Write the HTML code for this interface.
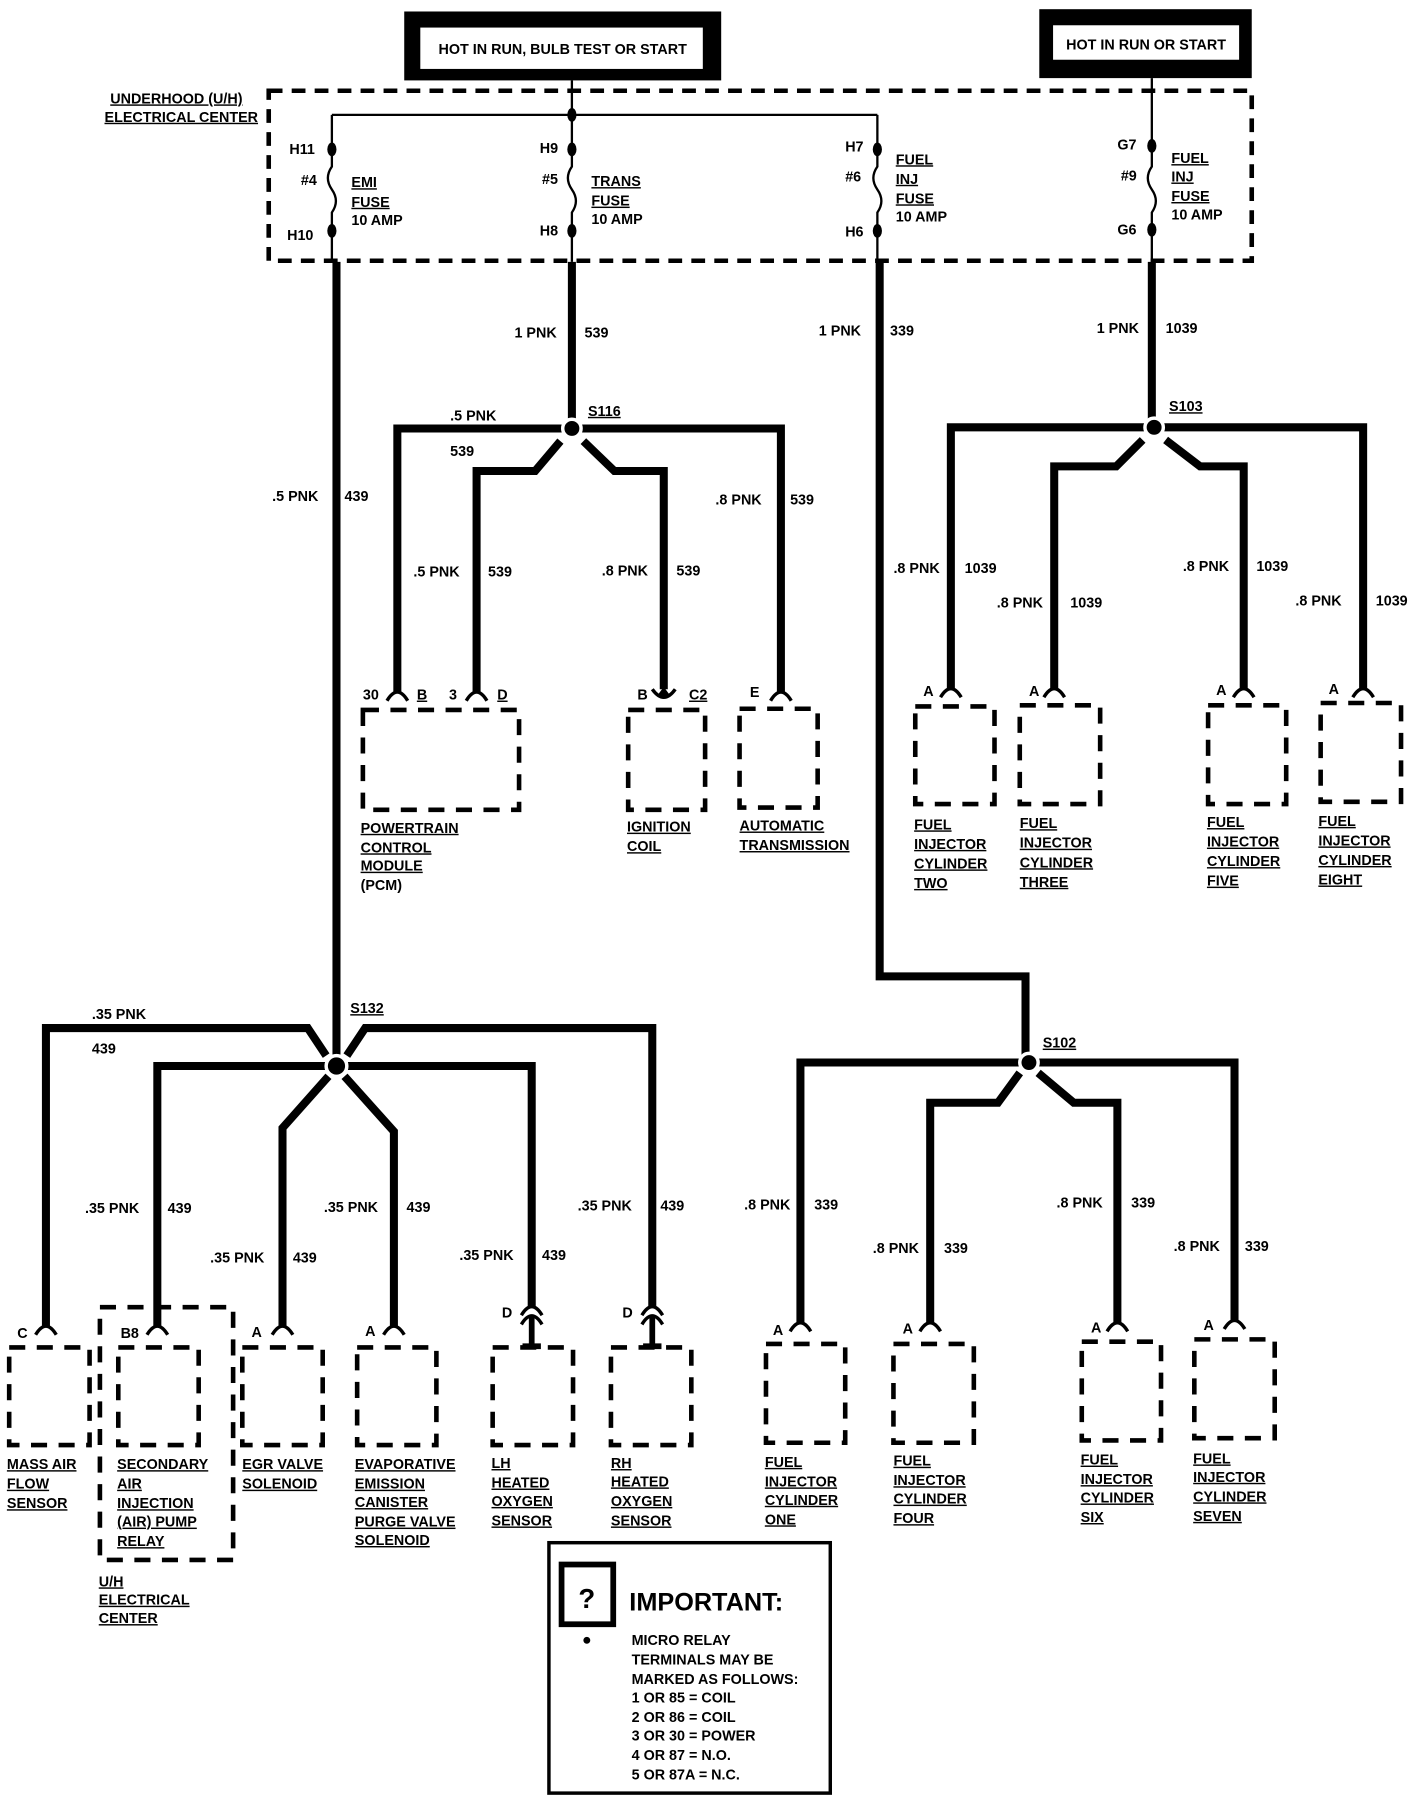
<!DOCTYPE html>
<html><head><meta charset="utf-8"><style>
html,body{margin:0;padding:0;background:#fff}
svg{display:block}
text{font-family:"Liberation Sans Narrow","Liberation Sans",sans-serif;font-weight:bold;font-size:12.5px;fill:#000}
.u{text-decoration:underline}
</style></head><body>
<svg width="1424" height="1800" viewBox="0 0 1240 1567" preserveAspectRatio="none" xmlns="http://www.w3.org/2000/svg">
<defs>
<g id="cap"><path d="M-9,7 Q0,-8 9,7" fill="none" stroke="#000" stroke-width="3"/></g>
</defs>
<!-- top boxes -->
<rect x="352" y="10" width="276" height="60" fill="#000"/>
<rect x="366" y="24" width="246" height="36" fill="#fff"/>
<text x="490" y="47" text-anchor="middle">HOT IN RUN, BULB TEST OR START</text>
<rect x="905" y="8" width="185" height="60" fill="#000"/>
<rect x="917" y="22" width="162" height="30" fill="#fff"/>
<text x="998" y="43" text-anchor="middle">HOT IN RUN OR START</text>
<!-- dashed center -->
<rect x="234" y="79" width="856" height="148" fill="none" stroke="#000" stroke-width="4" stroke-dasharray="12,8"/>
<text x="96" y="90" class="u">UNDERHOOD (U/H)</text>
<text x="91" y="106" class="u">ELECTRICAL CENTER</text>
<g stroke="#000" stroke-width="2" fill="none">
<path d="M498,70V100M289,100H764M289,100V130M498,100V130M764,100V130M1003,68V127"/>
<path d="M289,130V145 q-7,10 0,20 q7,10 0,20 V228"/>
<path d="M498,130V145 q-7,10 0,20 q7,10 0,20 V228"/>
<path d="M764,130V145 q-7,10 0,20 q7,10 0,20 V228"/>
<path d="M1003,127V145 q-7,10 0,20 q7,10 0,20 V228"/>
</g>
<g fill="#000">
<ellipse cx="289" cy="130" rx="4" ry="6"/><ellipse cx="289" cy="201" rx="4" ry="6"/>
<ellipse cx="498" cy="130" rx="4" ry="6"/><ellipse cx="498" cy="201" rx="4" ry="6"/>
<ellipse cx="764" cy="130" rx="4" ry="6"/><ellipse cx="764" cy="201" rx="4" ry="6"/>
<ellipse cx="1003" cy="127" rx="4" ry="6"/><ellipse cx="1003" cy="200" rx="4" ry="6"/>
<ellipse cx="498" cy="100" rx="4" ry="6"/>
</g>
<text x="252" y="134">H11</text><text x="262" y="161">#4</text><text x="250" y="209">H10</text>
<text x="306" y="163" class="u">EMI</text><text x="306" y="180" class="u">FUSE</text><text x="306" y="196">10 AMP</text>
<text x="470" y="133">H9</text><text x="472" y="160">#5</text><text x="470" y="205">H8</text>
<text x="515" y="162" class="u">TRANS</text><text x="515" y="179" class="u">FUSE</text><text x="515" y="195">10 AMP</text>
<text x="736" y="132">H7</text><text x="736" y="158">#6</text><text x="736" y="206">H6</text>
<text x="780" y="143" class="u">FUEL</text><text x="780" y="160" class="u">INJ</text><text x="780" y="177" class="u">FUSE</text><text x="780" y="193">10 AMP</text>
<text x="973" y="130">G7</text><text x="976" y="157">#9</text><text x="973" y="204">G6</text>
<text x="1020" y="142" class="u">FUEL</text><text x="1020" y="158" class="u">INJ</text><text x="1020" y="175" class="u">FUSE</text><text x="1020" y="191">10 AMP</text>
<!-- thick wires -->
<g stroke="#000" stroke-width="7" fill="none" stroke-linejoin="miter">
<path d="M293,228V928"/>
<path d="M498,228V373"/>
<path d="M766,228V850H893V925"/>
<path d="M1003,228V372"/>
<!-- S116 -->
<path d="M490,373H346V603"/>
<path d="M488,384L466,410H415V603"/>
<path d="M508,384L535,410H578V600"/>
<path d="M506,373H680V603"/>
<!-- S103 -->
<path d="M997,372H828V600"/>
<path d="M995,383L972,406H918V600"/>
<path d="M1015,383L1045,406H1083V600"/>
<path d="M1013,372H1187V600"/>
<!-- S132 -->
<path d="M284,919L268,895H40V1155"/>
<path d="M302,919L318,895H568V1138"/>
<path d="M283,928H137V1155"/>
<path d="M303,928H463V1138"/>
<path d="M286,937L246,982V1155"/>
<path d="M300,937L343,985V1155"/>
<!-- S102 -->
<path d="M888,925H697V1152"/>
<path d="M888,934L869,960H810V1152"/>
<path d="M904,934L935,960H973V1152"/>
<path d="M904,925H1075V1150"/>
</g>
<g fill="#000" stroke="#fff" stroke-width="3">
<circle cx="498" cy="373" r="8"/><circle cx="1005" cy="372" r="8"/><circle cx="293" cy="928" r="9"/><circle cx="896" cy="925" r="8"/>
</g>
<text x="512" y="362" class="u">S116</text><text x="1018" y="358" class="u">S103</text><text x="305" y="882" class="u">S132</text><text x="908" y="912" class="u">S102</text>
<!-- wire labels -->
<text x="448" y="294">1 PNK</text><text x="509" y="294">539</text>
<text x="713" y="292">1 PNK</text><text x="775" y="292">339</text>
<text x="955" y="290">1 PNK</text><text x="1015" y="290">1039</text>
<text x="237" y="436">.5 PNK</text><text x="300" y="436">439</text>
<text x="392" y="366">.5 PNK</text><text x="392" y="397">539</text>
<text x="360" y="502">.5 PNK</text><text x="425" y="502">539</text>
<text x="524" y="501">.8 PNK</text><text x="589" y="501">539</text>
<text x="623" y="439">.8 PNK</text><text x="688" y="439">539</text>
<text x="778" y="499">.8 PNK</text><text x="840" y="499">1039</text>
<text x="868" y="529">.8 PNK</text><text x="932" y="529">1039</text>
<text x="1030" y="497">.8 PNK</text><text x="1094" y="497">1039</text>
<text x="1128" y="527">.8 PNK</text><text x="1198" y="527">1039</text>
<text x="80" y="887">.35 PNK</text><text x="80" y="917">439</text>
<text x="74" y="1056">.35 PNK</text><text x="146" y="1056">439</text>
<text x="183" y="1099">.35 PNK</text><text x="255" y="1099">439</text>
<text x="282" y="1055">.35 PNK</text><text x="354" y="1055">439</text>
<text x="400" y="1097">.35 PNK</text><text x="472" y="1097">439</text>
<text x="503" y="1054">.35 PNK</text><text x="575" y="1054">439</text>
<text x="648" y="1053">.8 PNK</text><text x="709" y="1053">339</text>
<text x="760" y="1091">.8 PNK</text><text x="822" y="1091">339</text>
<text x="920" y="1051">.8 PNK</text><text x="985" y="1051">339</text>
<text x="1022" y="1089">.8 PNK</text><text x="1084" y="1089">339</text>
<!-- connector caps -->
<use href="#cap" x="346" y="603"/><use href="#cap" x="415" y="603"/><use href="#cap" x="680" y="603"/>
<path d="M568,600 Q578,614 588,600" fill="none" stroke="#000" stroke-width="3"/>
<path d="M578,598L572,606H584Z" fill="#000"/>
<use href="#cap" x="828" y="600"/><use href="#cap" x="918" y="600"/><use href="#cap" x="1083" y="600"/><use href="#cap" x="1187" y="600"/>
<use href="#cap" x="40" y="1155"/><use href="#cap" x="137" y="1155"/><use href="#cap" x="246" y="1155"/><use href="#cap" x="343" y="1155"/>
<use href="#cap" x="463" y="1138"/><use href="#cap" x="463" y="1146"/><use href="#cap" x="568" y="1138"/><use href="#cap" x="568" y="1146"/>
<g stroke="#000" stroke-width="5"><path d="M463,1146V1172M455,1172H471M568,1146V1172M560,1172H576"/></g>
<use href="#cap" x="697" y="1152"/><use href="#cap" x="810" y="1152"/><use href="#cap" x="973" y="1152"/><use href="#cap" x="1075" y="1150"/>
<text x="316" y="609">30</text><text x="363" y="609" class="u">B</text>
<text x="391" y="609">3</text><text x="433" y="609" class="u">D</text>
<text x="555" y="609">B</text><text x="600" y="609" class="u">C2</text>
<text x="653" y="607">E</text>
<text x="804" y="606">A</text><text x="896" y="606">A</text><text x="1059" y="605">A</text><text x="1157" y="604">A</text>
<text x="15" y="1165">C</text><text x="105" y="1165">B8</text><text x="219" y="1164">A</text><text x="318" y="1163">A</text>
<text x="437" y="1147">D</text><text x="542" y="1147">D</text>
<text x="673" y="1162">A</text><text x="786" y="1161">A</text><text x="950" y="1160">A</text><text x="1048" y="1158">A</text>
<!-- dashed component boxes -->
<g fill="none" stroke="#000" stroke-width="4" stroke-dasharray="14,10">
<rect x="316" y="618" width="136" height="87"/>
<rect x="547" y="618" width="67" height="87"/>
<rect x="644" y="617" width="68" height="86"/>
<rect x="797" y="615" width="69" height="85"/>
<rect x="888" y="614" width="70" height="86"/>
<rect x="1052" y="614" width="68" height="86"/>
<rect x="1150" y="612" width="70" height="86"/>
<rect x="8" y="1173" width="70" height="85"/>
<rect x="103" y="1173" width="70" height="85"/>
<rect x="87" y="1138" width="116" height="220"/>
<rect x="211" y="1173" width="70" height="85"/>
<rect x="311" y="1173" width="69" height="85"/>
<rect x="429" y="1173" width="70" height="85"/>
<rect x="532" y="1173" width="70" height="85"/>
<rect x="667" y="1170" width="69" height="86"/>
<rect x="778" y="1170" width="70" height="86"/>
<rect x="942" y="1168" width="69" height="86"/>
<rect x="1040" y="1166" width="70" height="86"/>
</g>
<!-- component labels -->
<g>
<text x="314" y="725" class="u">POWERTRAIN</text><text x="314" y="742" class="u">CONTROL</text><text x="314" y="758" class="u">MODULE</text><text x="314" y="775">(PCM)</text>
<text x="546" y="724" class="u">IGNITION</text><text x="546" y="741" class="u">COIL</text>
<text x="644" y="723" class="u">AUTOMATIC</text><text x="644" y="740" class="u">TRANSMISSION</text>
<text x="796" y="722" class="u">FUEL</text><text x="796" y="739" class="u">INJECTOR</text><text x="796" y="756" class="u">CYLINDER</text><text x="796" y="773" class="u">TWO</text>
<text x="888" y="721" class="u">FUEL</text><text x="888" y="738" class="u">INJECTOR</text><text x="888" y="755" class="u">CYLINDER</text><text x="888" y="772" class="u">THREE</text>
<text x="1051" y="720" class="u">FUEL</text><text x="1051" y="737" class="u">INJECTOR</text><text x="1051" y="754" class="u">CYLINDER</text><text x="1051" y="771" class="u">FIVE</text>
<text x="1148" y="719" class="u">FUEL</text><text x="1148" y="736" class="u">INJECTOR</text><text x="1148" y="753" class="u">CYLINDER</text><text x="1148" y="770" class="u">EIGHT</text>
<text x="6" y="1279" class="u">MASS AIR</text><text x="6" y="1296" class="u">FLOW</text><text x="6" y="1313" class="u">SENSOR</text>
<text x="102" y="1279" class="u">SECONDARY</text><text x="102" y="1296" class="u">AIR</text><text x="102" y="1313" class="u">INJECTION</text><text x="102" y="1329" class="u">(AIR) PUMP</text><text x="102" y="1346" class="u">RELAY</text>
<text x="211" y="1279" class="u">EGR VALVE</text><text x="211" y="1296" class="u">SOLENOID</text>
<text x="309" y="1279" class="u">EVAPORATIVE</text><text x="309" y="1296" class="u">EMISSION</text><text x="309" y="1312" class="u">CANISTER</text><text x="309" y="1329" class="u">PURGE VALVE</text><text x="309" y="1345" class="u">SOLENOID</text>
<text x="428" y="1278" class="u">LH</text><text x="428" y="1295" class="u">HEATED</text><text x="428" y="1311" class="u">OXYGEN</text><text x="428" y="1328" class="u">SENSOR</text>
<text x="532" y="1278" class="u">RH</text><text x="532" y="1294" class="u">HEATED</text><text x="532" y="1311" class="u">OXYGEN</text><text x="532" y="1328" class="u">SENSOR</text>
<text x="666" y="1277" class="u">FUEL</text><text x="666" y="1294" class="u">INJECTOR</text><text x="666" y="1310" class="u">CYLINDER</text><text x="666" y="1327" class="u">ONE</text>
<text x="778" y="1276" class="u">FUEL</text><text x="778" y="1293" class="u">INJECTOR</text><text x="778" y="1309" class="u">CYLINDER</text><text x="778" y="1326" class="u">FOUR</text>
<text x="941" y="1275" class="u">FUEL</text><text x="941" y="1292" class="u">INJECTOR</text><text x="941" y="1308" class="u">CYLINDER</text><text x="941" y="1325" class="u">SIX</text>
<text x="1039" y="1274" class="u">FUEL</text><text x="1039" y="1290" class="u">INJECTOR</text><text x="1039" y="1307" class="u">CYLINDER</text><text x="1039" y="1324" class="u">SEVEN</text>
<text x="86" y="1381" class="u">U/H</text><text x="86" y="1397" class="u">ELECTRICAL</text><text x="86" y="1413" class="u">CENTER</text>
</g>
<!-- important box -->
<rect x="478" y="1343" width="245" height="218" fill="none" stroke="#000" stroke-width="3"/>
<rect x="489" y="1362" width="45" height="52" fill="none" stroke="#000" stroke-width="5"/>
<text x="511" y="1400" text-anchor="middle" style="font-size:24px">?</text>
<circle cx="511" cy="1428" r="3" fill="#000"/>
<text x="548" y="1402" style="font-size:22px">IMPORTANT:</text>
<text x="550" y="1432">MICRO RELAY</text>
<text x="550" y="1449">TERMINALS MAY BE</text>
<text x="550" y="1466">MARKED AS FOLLOWS:</text>
<text x="550" y="1482">1 OR 85 = COIL</text>
<text x="550" y="1499">2 OR 86 = COIL</text>
<text x="550" y="1515">3 OR 30 = POWER</text>
<text x="550" y="1532">4 OR 87 = N.O.</text>
<text x="550" y="1549">5 OR 87A = N.C.</text>
</svg>
</body></html>
